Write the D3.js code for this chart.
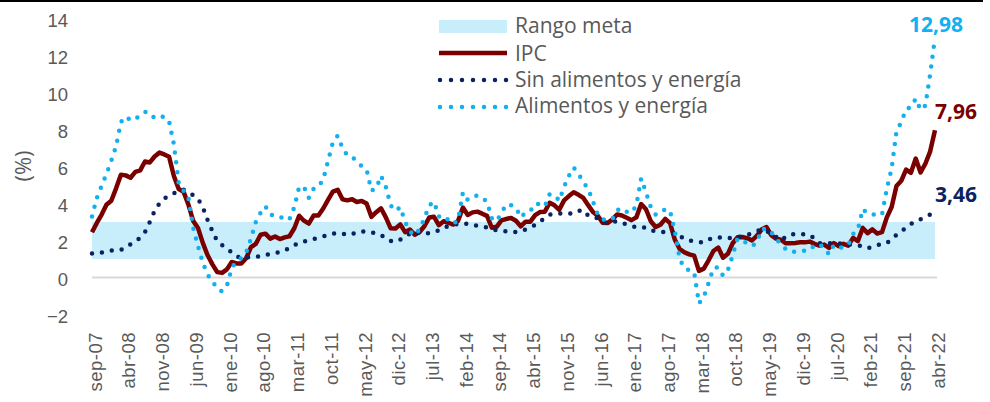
<!DOCTYPE html>
<html>
<head>
<meta charset="utf-8">
<script src="https://cdn.jsdelivr.net/npm/d3@7"></script>
<style>
  body { margin: 0; background: #fff; }
  svg { display: block; font-family: "Open Sans", sans-serif; }
  .tick text { fill: #595959; }
</style>
</head>
<body>
<svg id="chart" width="990" height="402"></svg>
<script>
// meses (sep-07 .. abr-22)
const mesesAbr = ["ene", "feb", "mar", "abr", "may", "jun", "jul", "ago", "sep", "oct", "nov", "dic"];
const tickLabels = ["sep-07", "abr-08", "nov-08", "jun-09", "ene-10", "ago-10", "mar-11", "oct-11",
  "may-12", "dic-12", "jul-13", "feb-14", "sep-14", "abr-15", "nov-15", "jun-16", "ene-17",
  "ago-17", "mar-18", "oct-18", "may-19", "dic-19", "jul-20", "feb-21", "sep-21", "abr-22"];
const yTicks = [-2, 0, 2, 4, 6, 8, 10, 12, 14];
const rangoMeta = [1, 3];

// IPC, var. % 12 meses
const ipc = [
  2.45, 2.95, 3.4, 3.93,
  4.15, 4.82, 5.55, 5.52, 5.39, 5.71, 5.79, 6.27, 6.22, 6.54, 6.75, 6.65,
  6.53, 5.49, 4.78, 4.64, 3.95, 3.06, 2.68, 1.87, 1.20, 0.71, 0.29, 0.25,
  0.44, 0.84, 0.76, 0.76, 1.04, 1.64, 1.82, 2.31, 2.37, 2.10, 2.22, 2.08,
  2.17, 2.23, 2.66, 3.34, 3.07, 2.91, 3.35, 3.35, 3.73, 4.20, 4.64, 4.74,
  4.23, 4.17, 4.23, 4.08, 4.14, 4.00, 3.28, 3.53, 3.74, 3.25, 2.66, 2.65,
  2.87, 2.45, 2.59, 2.31, 2.46, 2.77, 3.24, 3.28, 2.83, 3.04, 2.96, 2.86,
  3.07, 3.78, 3.38, 3.52, 3.56, 3.45, 3.33, 2.69, 2.74, 3.09, 3.16, 3.22,
  3.07, 2.77, 3.02, 3.02, 3.37, 3.54, 3.56, 4.04, 3.90, 3.66, 4.17, 4.40,
  4.61, 4.47, 4.30, 3.91, 3.54, 3.34, 2.96, 2.94, 3.13, 3.41, 3.35, 3.23,
  3.10, 3.25, 3.97, 3.69, 3.04, 2.73, 2.85, 3.17, 2.94, 2.04, 1.54, 1.36,
  1.25, 1.18, 0.36, 0.48, 0.93, 1.43, 1.62, 1.07, 1.28, 1.85, 2.17, 2.19,
  2.13, 2.00, 2.25, 2.59, 2.73, 2.29, 2.10, 2.04, 1.85, 1.85, 1.87, 1.90,
  1.90, 1.94, 1.82, 1.72, 1.78, 1.60, 1.86, 1.69, 1.82, 1.72, 2.14, 1.97,
  2.68, 2.40, 2.60, 2.38, 2.45, 3.25, 3.81, 4.95, 5.23, 5.83, 5.66, 6.43,
  5.68, 6.15, 6.82, 7.96
];

// IPC sin alimentos y energía
const sinAlimEnergia = [
  1.3, 1.3, 1.35, 1.4,
  1.45, 1.48, 1.5, 1.62, 1.8, 1.96, 2.15, 2.45, 3.0, 3.6, 4.0, 4.27,
  4.42, 4.55, 4.65, 4.75, 4.6, 4.45, 4.25, 3.8, 3.1, 2.5, 1.96, 1.75,
  1.6, 1.35, 1.15, 1.05, 1.08, 1.1, 1.12, 1.15, 1.2, 1.28, 1.32, 1.37,
  1.45, 1.6, 1.75, 1.88, 1.95, 2.0, 2.08, 2.15, 2.22, 2.3, 2.37, 2.4,
  2.38, 2.3, 2.35, 2.45, 2.5, 2.47, 2.45, 2.38, 2.3, 2.1, 1.97, 1.93,
  2.05, 2.2, 2.38, 2.48, 2.4, 2.35, 2.4, 2.45, 2.55, 2.7, 2.78, 2.85,
  2.9, 2.93, 2.9, 2.83, 2.8, 2.77, 2.7, 2.6, 2.55, 2.52, 2.5, 2.5,
  2.45, 2.5, 2.6, 2.7, 2.85, 3.0, 3.25, 3.4, 3.46, 3.46, 3.45, 3.46,
  3.46, 3.6, 3.65, 3.35, 3.25, 3.2, 3.05, 2.93, 3.0, 3.04, 2.95, 2.87,
  2.8, 2.7, 2.7, 2.7, 2.55, 2.5, 2.47, 2.45, 2.45, 2.4, 2.2, 2.15,
  2.0, 1.95, 1.92, 1.9, 2.05, 2.15, 2.17, 2.15, 2.12, 2.15, 2.2, 2.2,
  2.3, 2.4, 2.5, 2.6, 2.5, 2.4, 2.2, 2.0, 2.2, 2.34, 2.34, 2.34,
  2.34, 2.3, 2.1, 1.85, 1.85, 1.85, 1.85, 1.85, 1.82, 1.8, 1.77, 1.75,
  1.68, 1.58, 1.65, 1.75, 1.8, 1.85, 2.1, 2.3, 2.5, 2.7, 2.9, 3.05,
  3.15, 3.28, 3.4, 3.46
];

// alimentos y energía
const alimEnergia = [
  3.3, 4.3, 4.95, 5.6,
  6.3, 7.1, 8.4, 8.7, 8.5, 8.55, 8.8, 8.95, 8.9, 8.6, 8.65, 8.7,
  8.45, 7.2, 5.1, 4.7, 4.35, 2.7, 1.7, 0.8, 0.15, -0.2, -0.62, -0.75,
  -0.45, 0.5, 0.9, 1.05, 1.35, 2.1, 3.0, 3.5, 3.85, 3.4, 3.35, 3.3,
  3.1, 3.15, 3.8, 4.9, 4.9, 4.3, 4.8, 4.9, 5.3, 6.3, 7.3, 7.66,
  7.0, 6.6, 6.5, 6.3, 6.0, 5.85, 4.7, 4.8, 5.5, 4.9, 3.9, 3.6,
  3.8, 3.0, 2.5, 2.28, 2.6, 3.2, 3.9, 4.1, 3.3, 3.35, 3.1, 2.9,
  3.1, 4.6, 4.2, 4.35, 4.44, 4.3, 4.1, 3.2, 3.04, 3.5, 3.95, 3.9,
  3.8, 3.25, 3.5, 3.6, 4.0, 3.95, 3.84, 4.5, 4.45, 4.15, 4.9, 5.5,
  5.94, 5.6, 5.15, 4.8, 4.1, 3.4, 3.14, 3.14, 3.14, 3.63, 3.74, 3.55,
  3.5, 3.9, 5.35, 4.6, 3.8, 3.4, 3.46, 3.7, 3.6, 2.5, 1.0, 0.5,
  0.4, 0.3, -1.4, -1.05, -0.3, 0.5, 0.55, 0.1, 0.4, 1.2, 2.1, 2.0,
  1.85, 1.7, 1.9, 2.6, 2.65, 2.45, 2.1, 1.8, 1.55, 1.38, 1.4, 1.42,
  1.45, 1.48, 1.75, 1.8, 1.6, 1.26, 1.75, 1.6, 1.65, 1.75, 2.35, 2.6,
  3.7, 3.46, 3.4, 3.4, 3.4, 4.8, 5.9, 7.9, 8.4, 9.1, 9.2, 9.66,
  9.06, 9.3, 11.0, 12.98
];

const meses = [];
for (let k = 0; k < ipc.length; k++) {
  const m = (8 + k) % 12;
  const a = 7 + Math.floor((8 + k) / 12);
  meses.push(mesesAbr[m] + "-" + String(a).padStart(2, "0"));
}

const colIPC = "#7a0000";
const colSin = "#0b2260";
const colAE = "#12b0ef";
const colBanda = "#c9eefb";
const colTexto = "#595959";

const svg = d3.select("#chart");

// linea negra superior
svg.append("rect").attr("x", 0).attr("y", 0).attr("width", 983).attr("height", 2).attr("fill", "#000");

const x = d3.scalePoint().domain(meses).range([92, 935]);
const y = d3.scaleLinear().domain([-2, 14]).range([314.5, 18.5]);

// rango meta
svg.append("rect")
  .attr("x", 92)
  .attr("y", y(rangoMeta[1]))
  .attr("width", x(meses[meses.length - 1]) - 92)
  .attr("height", y(rangoMeta[0]) - y(rangoMeta[1]))
  .attr("fill", colBanda);

// linea cero
svg.append("line")
  .attr("x1", 92).attr("x2", 937)
  .attr("y1", y(0)).attr("y2", y(0))
  .attr("stroke", "#d9d9d9").attr("stroke-width", 2);

// eje Y
const axisY = d3.axisLeft(y).tickValues(yTicks).tickSize(0).tickPadding(0);
svg.append("g")
  .attr("transform", "translate(68,2)")
  .call(axisY)
  .call(g => g.select(".domain").remove())
  .selectAll("text")
  .style("font-size", "18.5px");

svg.append("text")
  .attr("transform", "translate(31,166) rotate(-90)")
  .attr("text-anchor", "middle")
  .style("font-size", "22px")
  .attr("fill", colTexto)
  .text("(%)");

// eje X
const axisX = d3.axisBottom(x).tickValues(tickLabels).tickSize(0).tickPadding(0);
svg.append("g")
  .attr("transform", "translate(0,332)")
  .call(axisX)
  .call(g => g.select(".domain").remove())
  .selectAll("text")
  .style("font-size", "18.5px")
  .style("letter-spacing", "0.5px")
  .style("text-anchor", "end")
  .attr("y", 0)
  .attr("x", 0)
  .attr("dy", "0.5em")
  .attr("transform", "rotate(-90)");

// series
const linea = serie => d3.line()
  .x((d, i) => x(meses[i]))
  .y(d => y(d))(serie);

svg.append("path")
  .attr("d", linea(ipc))
  .attr("fill", "none")
  .attr("stroke", colIPC)
  .attr("stroke-width", 4.5)
  .attr("stroke-linejoin", "round");

svg.append("path")
  .attr("d", linea(sinAlimEnergia))
  .attr("fill", "none")
  .attr("stroke", colSin)
  .attr("stroke-width", 4.5)
  .attr("stroke-linecap", "round")
  .attr("stroke-dasharray", "0 10");

svg.append("path")
  .attr("d", linea(alimEnergia))
  .attr("fill", "none")
  .attr("stroke", colAE)
  .attr("stroke-width", 4.5)
  .attr("stroke-linecap", "round")
  .attr("stroke-dasharray", "0 10");

// etiquetas ultimo dato
const ultimo = meses[meses.length - 1];
const etiquetas = [
  { v: alimEnergia[alimEnergia.length - 1], c: colAE, dx: 28, yy: 32 },
  { v: ipc[ipc.length - 1], c: colIPC, dx: 42, yy: 119 },
  { v: sinAlimEnergia[sinAlimEnergia.length - 1], c: colSin, dx: 42, yy: 202 }
];
svg.selectAll(".etq")
  .data(etiquetas)
  .enter()
  .append("text")
  .attr("x", d => x(ultimo) + d.dx)
  .attr("y", d => d.yy)
  .attr("text-anchor", "end")
  .style("font-size", "21px")
  .style("font-weight", "bold")
  .attr("fill", d => d.c)
  .text(d => d3.format(".2f")(d.v).replace(".", ","));

// leyenda
const ley = svg.append("g").attr("transform", "translate(439,0)");
ley.append("rect").attr("x", 0).attr("y", 20).attr("width", 68).attr("height", 13).attr("fill", colBanda);
ley.append("line").attr("x1", 0).attr("x2", 68).attr("y1", 53).attr("y2", 53)
  .attr("stroke", colIPC).attr("stroke-width", 4.5);
ley.append("line").attr("x1", 1).attr("x2", 68).attr("y1", 80).attr("y2", 80)
  .attr("stroke", colSin).attr("stroke-width", 4.5)
  .attr("stroke-linecap", "round").attr("stroke-dasharray", "0 11");
ley.append("line").attr("x1", 1).attr("x2", 68).attr("y1", 107).attr("y2", 107)
  .attr("stroke", colAE).attr("stroke-width", 4.5)
  .attr("stroke-linecap", "round").attr("stroke-dasharray", "0 11");
const leyTextos = ["Rango meta", "IPC", "Sin alimentos y energía", "Alimentos y energía"];
ley.selectAll(".lt")
  .data(leyTextos)
  .enter()
  .append("text")
  .attr("x", 76)
  .attr("y", (d, i) => [33, 61, 87, 113][i])
  .style("font-size", "21px")
  .attr("fill", colTexto)
  .text(d => d);
</script>
</body>
</html>
